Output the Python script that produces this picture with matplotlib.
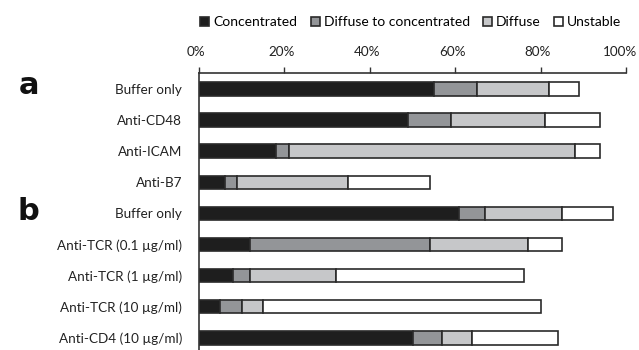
import numpy as np
import matplotlib
matplotlib.use('Agg')
import matplotlib.pyplot as plt
from matplotlib.transforms import ScaledTranslation

plt.rcParams['font.family'] = ['Lato', 'DejaVu Sans']

# rows, top to bottom
labels = ['Buffer only', 'Anti-CD48', 'Anti-ICAM', 'Anti-B7',
          'Buffer only', 'Anti-TCR (0.1 \u00b5g/ml)', 'Anti-TCR (1 \u00b5g/ml)',
          'Anti-TCR (10 \u00b5g/ml)', 'Anti-CD4 (10 \u00b5g/ml)']
concentrated = [55, 49, 18, 6, 61, 12, 8, 5, 50]
diffuse_to_conc = [10, 10, 3, 3, 6, 42, 4, 5, 7]
diffuse = [17, 22, 67, 26, 18, 23, 20, 5, 7]
unstable = [7, 13, 6, 19, 12, 8, 44, 65, 20]

series = [('Concentrated', concentrated, '#1e1e1e'),
          ('Diffuse to concentrated', diffuse_to_conc, '#939598'),
          ('Diffuse', diffuse, '#c6c7c9'),
          ('Unstable', unstable, '#ffffff')]

fig = plt.figure(figsize=(6.39, 3.5), dpi=100)
ax = fig.add_axes([0.3114, 0.0, 0.6683, 0.7914])

y = np.arange(len(labels))
left = np.zeros(len(labels))
for name, vals, col in series:
    ax.barh(y, vals, left=left, height=0.43, color=col, edgecolor='#2a2a2a',
            linewidth=1.2, label=name)
    left += np.array(vals)

ax.set_ylim(8.39, -0.51)
ax.set_xlim(0, 100)
ax.xaxis.tick_top()
ax.set_xticks([0, 20, 40, 60, 80, 100])
ax.set_xticklabels(['0%', '20%', '40%', '60%', '80%', '100%'])
ax.tick_params(axis='x', direction='out', length=4, width=1, color='#333333',
               labelsize=9.7, pad=7, labelcolor='#222222')
# labels sit a little left of their ticks in the original
xlabs = ax.get_xticklabels()
for i, t in enumerate(xlabs):
    dx = -6 if i == len(xlabs) - 1 else -3
    t.set_transform(t.get_transform() + ScaledTranslation(dx / 100, 0, fig.dpi_scale_trans))
ax.set_yticks(y)
ax.set_yticklabels(labels)
ax.tick_params(axis='y', length=0, labelsize=9.7, pad=12, labelcolor='#222222')
for s in ['right', 'bottom']:
    ax.spines[s].set_visible(False)
for s in ['top', 'left']:
    ax.spines[s].set_color('#333333')
    ax.spines[s].set_linewidth(1.2)

fig.legend(loc='center', bbox_to_anchor=(0.643, 0.936), ncol=4, frameon=False,
           fontsize=10, handlelength=0.65, handleheight=0.65, handletextpad=0.3,
           columnspacing=0.95, borderaxespad=0)

fig.text(0.045, 0.757, 'a', fontsize=22, fontweight='bold', ha='center', va='center',
         color='#111111', family=['DejaVu Sans'])
fig.text(0.045, 0.396, 'b', fontsize=22, fontweight='bold', ha='center', va='center',
         color='#111111', family=['DejaVu Sans'])

fig.savefig('out.png', dpi=100)
